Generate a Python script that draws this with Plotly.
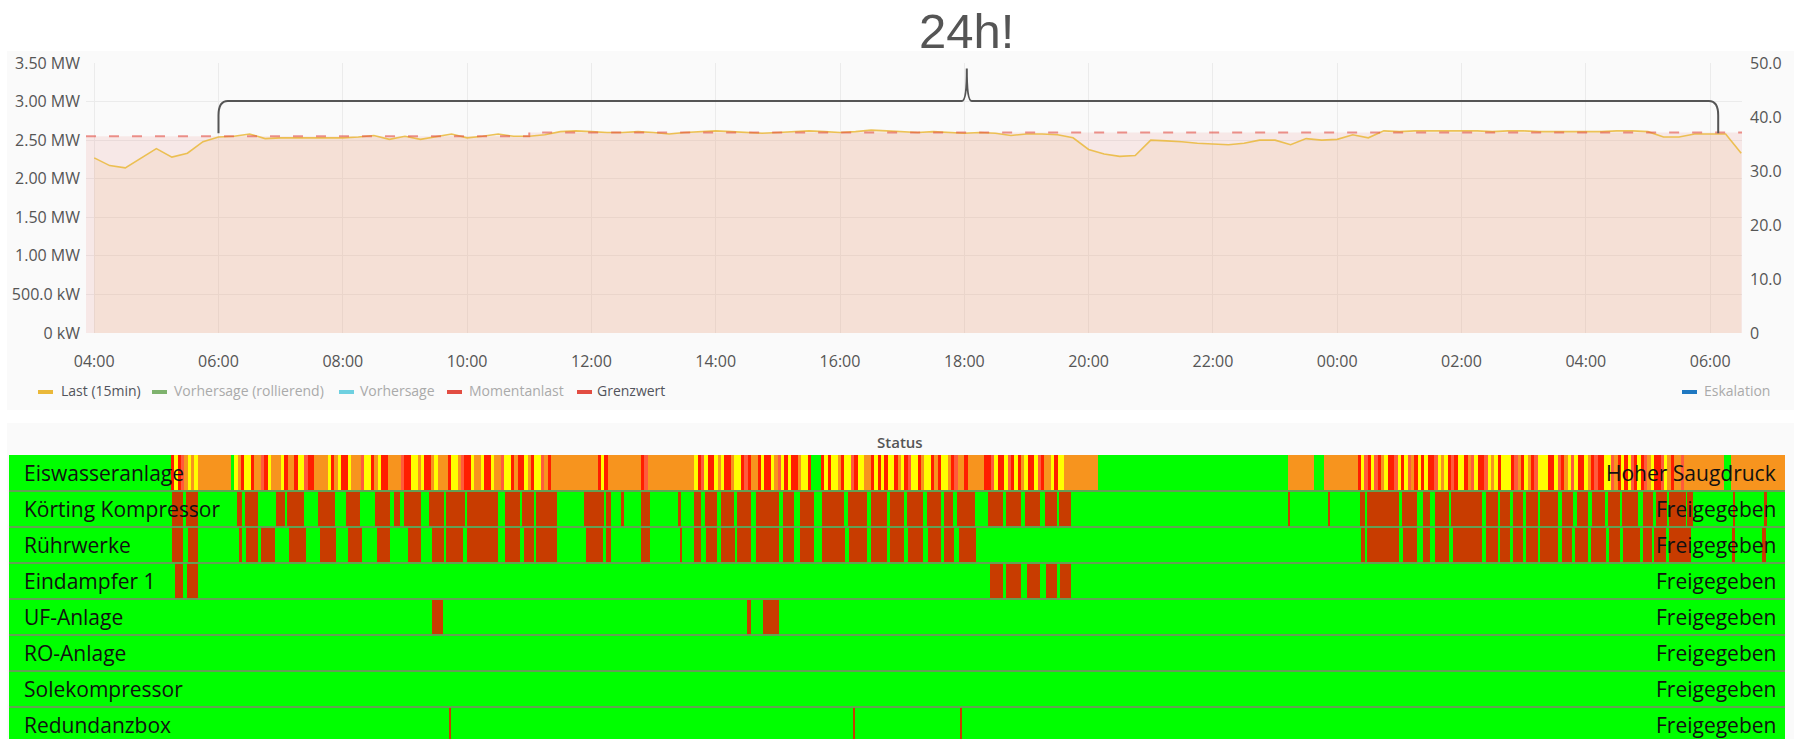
import plotly.graph_objects as go

W, H = 1802, 739
def px(x): return x / W
def py(y): return 1 - y / H

# ---------------- data ----------------
T_RANGE = [3.868, 30.513]          # hours since 00:00 of day 1
TICK_H = [4, 6, 8, 10, 12, 14, 16, 18, 20, 22, 24, 26, 28, 30]
TICK_TXT = ["04:00", "06:00", "08:00", "10:00", "12:00", "14:00", "16:00", "18:00",
            "20:00", "22:00", "00:00", "02:00", "04:00", "06:00"]

LAST_START = 4.0   # first sample 04:00, 15 min steps
LAST = [2.27, 2.17, 2.14, 2.27, 2.39, 2.28, 2.33, 2.48, 2.54, 2.55, 2.58, 2.52, 2.53,
        2.53, 2.53, 2.53, 2.53, 2.54, 2.56, 2.51, 2.55, 2.51, 2.55, 2.58, 2.53, 2.55,
        2.58, 2.55, 2.55, 2.57, 2.61, 2.62, 2.61,
        2.60, 2.60, 2.61, 2.60, 2.58, 2.60, 2.61, 2.62, 2.61, 2.60, 2.59, 2.60, 2.61,
        2.62, 2.61, 2.60, 2.61, 2.63, 2.62, 2.61, 2.60, 2.61, 2.60, 2.59, 2.60, 2.59,
        2.56, 2.58, 2.58, 2.57, 2.53,
        2.38, 2.32, 2.29, 2.30, 2.50, 2.49, 2.48, 2.46, 2.45, 2.44, 2.46, 2.50, 2.50,
        2.44, 2.52, 2.50, 2.51, 2.57, 2.53, 2.62, 2.61, 2.62, 2.62, 2.62, 2.62, 2.62,
        2.61, 2.62, 2.62, 2.61, 2.61, 2.61, 2.61, 2.61, 2.62, 2.62, 2.61, 2.54, 2.54,
        2.58, 2.58, 2.58, 2.33]
GRENZ_T = [3.868, 11.0, 30.513]
GRENZ = [2.55, 2.60, 2.60]

Y_TICKS = [0, 0.5, 1.0, 1.5, 2.0, 2.5, 3.0, 3.5]
Y_TICK_TXT = ["0 kW", "500.0 kW", "1.00 MW", "1.50 MW", "2.00 MW", "2.50 MW", "3.00 MW", "3.50 MW"]
Y2_TICKS = [0, 10, 20, 30, 40, 50]
Y2_TICK_TXT = ["0", "10.0", "20.0", "30.0", "40.0", "50.0"]

ROWS = ["Eiswasseranlage", "Körting Kompressor", "Rührwerke", "Eindampfer 1",
        "UF-Anlage", "RO-Anlage", "Solekompressor", "Redundanzbox"]
ROW_STATE_TXT = ["Hoher Saugdruck", "Freigegeben", "Freigegeben", "Freigegeben",
                 "Freigegeben", "Freigegeben", "Freigegeben", "Freigegeben"]

# Eiswasseranlage: (start hour, states every 3 min) g=ok o=warn y=yellow r=red p=light red
EIS_STEP = 0.05
EIS_BLOCKS = [
    (6.30, "ryrpoyoy" + "oooooooooo"),
    (7.25, "yoryyroo" "pryoooyr" "ooryyprr" "ooooyroy" "rryooopy" "yroyrroo"
           "ooprryyo" "yrroyooo" "ryyoprry" "ooyrryoo" "pyyrorry" "oryyporo"),
    (12.05, "ooooooooooooo" "ryr" "oooooooooo" "rp" "oooooooooooooo"
            "yrpyr" "ryoyr" "royyr" "proor" "yrryo" "pyryr" "royyr"
            "ggg"
            "ryryy" "oryyp" "ryyoo" "ryryr" "yyroy" "rpyyr" "oyyro" "ryyor"
            "pooro" "oooor" "rpyrr" "ypryr" "oyrry" "prooy" "ryyoo"
            "oooooooo"),
    (23.05, "oooooooo" "ggg" "oooooooooo"
            "ryprypr" "oyrrpyr" "yporyry" "rrpyoyr" "pryyrop" "yrrpyoy" "ryyyrpo"
            "ryorpyy" "yrrypro" "ypyrryo" "rprryyp" "oryrypr" "yrpoyrr" "pyoroop"
            "oooooooooooo" "gg" "ooooooooooooooooo"),
]

KOERTING = [(6.31, 6.48), (6.52, 6.70), (7.29, 7.36), (7.41, 7.60), (7.87, 8.01), (8.04, 8.29),
            (8.50, 8.76), (8.92, 9.13), (9.36, 9.58), (9.64, 9.74), (9.80, 10.05), (10.17, 10.39),
            (10.42, 10.71), (10.74, 11.20), (11.31, 11.54), (11.56, 11.75), (11.78, 12.09),
            (12.50, 12.80), (12.83, 12.90), (13.05, 13.10), (13.35, 13.49), (13.91, 13.95),
            (14.15, 14.25), (14.31, 14.49), (14.55, 14.75), (14.79, 15.00), (15.08, 15.42),
            (15.48, 15.65), (15.74, 15.95), (16.07, 16.40), (16.46, 16.74), (16.80, 17.04),
            (17.09, 17.30), (17.34, 17.58), (17.64, 17.85), (17.90, 18.03), (18.09, 18.36),
            (18.56, 18.78), (18.83, 19.05), (19.11, 19.34), (19.41, 19.59), (19.62, 19.80),
            (23.06, 23.08), (23.66, 23.68),
            (24.14, 24.21), (24.24, 24.72), (24.77, 24.99), (25.08, 25.19), (25.26, 25.47),
            (25.50, 25.96), (26.02, 26.20), (26.23, 26.39), (26.43, 26.58), (26.63, 26.80),
            (26.83, 27.11), (27.17, 27.33), (27.39, 27.56), (27.62, 27.81), (27.86, 28.04),
            (28.07, 28.31), (28.38, 28.53), (28.58, 28.74), (28.77, 29.03), (29.04, 29.13),
            (29.73, 29.77), (30.20, 30.25)]
RUEHRWERKE = [(6.31, 6.48), (6.55, 6.70), (7.32, 7.36), (7.42, 7.60), (7.65, 7.86), (8.07, 8.32),
              (8.53, 8.77), (8.95, 9.16), (9.39, 9.58), (9.85, 10.05), (10.21, 10.39),
              (10.42, 10.68), (10.74, 11.20), (11.31, 11.54), (11.60, 11.75), (11.78, 12.09),
              (12.53, 12.78), (12.83, 12.90), (13.35, 13.49), (13.94, 13.97), (14.15, 14.25),
              (14.33, 14.49), (14.55, 14.76), (14.79, 15.00), (15.08, 15.42), (15.48, 15.65),
              (15.74, 15.95), (16.07, 16.41), (16.47, 16.74), (16.80, 17.04), (17.09, 17.30),
              (17.36, 17.58), (17.66, 17.85), (17.90, 18.05), (18.12, 18.38),
              (24.15, 24.21), (24.24, 24.72), (24.78, 24.99), (25.08, 25.19), (25.26, 25.47),
              (25.53, 25.96), (26.03, 26.20), (26.24, 26.39), (26.43, 26.58), (26.63, 26.80),
              (26.83, 27.11), (27.17, 27.32), (27.36, 27.56), (27.60, 27.83), (27.87, 28.04),
              (28.08, 28.34), (28.38, 28.52), (28.55, 28.73), (28.77, 29.10), (29.72, 29.77),
              (30.17, 30.23)]
EINDAMPFER = [(6.36, 6.48), (6.54, 6.70), (18.59, 18.78), (18.83, 19.05), (19.14, 19.34),
              (19.43, 19.59), (19.64, 19.80)]
UF_ANLAGE = [(10.21, 10.38), (14.94, 15.00), (15.18, 15.42)]
RO_ANLAGE = []
SOLEKOMPRESSOR = []
REDUNDANZBOX = [(10.47, 10.50), (16.53, 16.56), (18.14, 18.17)]
ALARM_ROWS = {1: KOERTING, 2: RUEHRWERKE, 3: EINDAMPFER, 4: UF_ANLAGE, 5: RO_ANLAGE,
              6: SOLEKOMPRESSOR, 7: REDUNDANZBOX}

STATE_COLORS = {"g": "#00ff00", "o": "#f7941e", "y": "#ffff00", "r": "#ff1e00",
                "p": "#ff5a3c", "alarm": "#c83c00"}

# ---------------- figure ----------------
fig = go.Figure()

fig.add_trace(go.Scatter(x=GRENZ_T, y=GRENZ, mode="lines", line=dict(width=0, shape="hv"),
                         fill="tozeroy", fillcolor="rgba(226,77,66,0.10)",
                         showlegend=False, hoverinfo="skip"))
last_t = [LAST_START + 0.25 * i for i in range(len(LAST))]
fig.add_trace(go.Scatter(x=last_t, y=LAST, mode="lines",
                         line=dict(color="rgba(234,184,57,0.85)", width=1.6),
                         fill="tozeroy", fillcolor="rgba(234,184,120,0.15)",
                         showlegend=False, hoverinfo="skip"))
fig.add_trace(go.Scatter(x=GRENZ_T, y=GRENZ, mode="lines",
                         line=dict(color="rgba(226,77,66,0.6)", width=2, dash="10px,13px", shape="hv"),
                         showlegend=False, hoverinfo="skip"))
fig.add_trace(go.Scatter(x=[None], y=[None], yaxis="y3", showlegend=False, hoverinfo="skip"))

def add_bars(rows, starts, ends, color):
    if not starts:
        return
    fig.add_trace(go.Bar(orientation="h", y=rows, base=starts,
                         x=[e - s for s, e in zip(starts, ends)],
                         width=1.0, marker=dict(color=color, line=dict(width=0)),
                         xaxis="x2", yaxis="y2", showlegend=False, hoverinfo="skip"))

add_bars(list(range(len(ROWS))), [T_RANGE[0]] * len(ROWS), [T_RANGE[1]] * len(ROWS),
         STATE_COLORS["g"])

runs = {}
for start, code in EIS_BLOCKS:
    i = 0
    while i < len(code):
        j = i
        while j < len(code) and code[j] == code[i]:
            j += 1
        runs.setdefault(code[i], []).append((start + i * EIS_STEP, start + j * EIS_STEP))
        i = j
for st in ["o", "y", "r", "p", "g"]:
    segs = runs.get(st, [])
    add_bars([0] * len(segs), [s for s, e in segs], [e for s, e in segs], STATE_COLORS[st])

for row, segs in ALARM_ROWS.items():
    add_bars([row] * len(segs), [s for s, e in segs], [e for s, e in segs], STATE_COLORS["alarm"])

# ---------------- layout ----------------
font_axis = dict(family="Open Sans", size=16, color="#555")
fig.update_layout(
    width=W, height=H, margin=dict(l=0, r=0, t=0, b=0, pad=0, autoexpand=False),
    paper_bgcolor="white", plot_bgcolor="rgba(0,0,0,0)",
    barmode="overlay", bargap=0, showlegend=False,
    xaxis=dict(domain=[px(86), px(1742)], range=T_RANGE, tickvals=TICK_H, ticktext=TICK_TXT,
               showgrid=True, gridcolor="#ebebeb", zeroline=False, showline=False, ticks="",
               tickfont=font_axis, ticklabelstandoff=17, anchor="y", automargin=False),
    yaxis=dict(domain=[py(333), py(63)], range=[0, 3.5], tickvals=Y_TICKS, ticktext=Y_TICK_TXT,
               showgrid=True, gridcolor="#ebebeb", zeroline=False, showline=False, ticks="",
               tickfont=font_axis, ticklabelstandoff=5, anchor="x", automargin=False),
    yaxis3=dict(overlaying="y", side="right", range=[0, 50], tickvals=Y2_TICKS, ticktext=Y2_TICK_TXT,
                showgrid=False, zeroline=False, showline=False, ticks="", tickfont=font_axis,
                ticklabelstandoff=7, anchor="x", automargin=False),
    xaxis2=dict(domain=[px(9), px(1785)], range=T_RANGE, visible=False, anchor="y2", automargin=False),
    yaxis2=dict(domain=[0, py(455)], range=[7.389, -0.5], visible=False, anchor="x2", automargin=False),
)

shapes = [
    dict(type="rect", xref="paper", yref="paper", x0=px(7), x1=px(1794), y0=py(410), y1=py(51),
         fillcolor="#fafafa", line=dict(width=0), layer="below"),
    dict(type="rect", xref="paper", yref="paper", x0=px(7), x1=px(1794), y0=py(739), y1=py(423),
         fillcolor="#fafafa", line=dict(width=0), layer="below"),
]
for i in range(len(ROWS) - 1):
    shapes.append(dict(type="line", xref="paper", yref="y2", x0=px(9), x1=px(1785),
                       y0=i + 0.5, y1=i + 0.5, line=dict(color="#63a054", width=2)))

bx0, bx1, tip = 6.0, 30.13, 18.04
by0, by1, bt = 2.59, 3.007, 3.43
brace = (f"M {bx0},{by0} L {bx0},2.82 Q {bx0},{by1} {bx0+0.15},{by1} "
         f"L {tip-0.08},{by1} Q {tip},{by1} {tip},{bt} Q {tip},{by1} {tip+0.08},{by1} "
         f"L {bx1-0.15},{by1} Q {bx1},{by1} {bx1},2.82 L {bx1},{by0}")
shapes.append(dict(type="path", xref="x", yref="y", path=brace, line=dict(color="#555", width=2)))

annotations = [
    dict(text="24h!", x=px(966), y=py(31), xref="paper", yref="paper", showarrow=False,
         xanchor="center", yanchor="middle",
         font=dict(family="Liberation Sans, Arial", size=49, color="#555")),
    dict(text="Status", x=px(900), y=py(442), xref="paper", yref="paper", showarrow=False,
         xanchor="center", yanchor="middle",
         font=dict(family="Open Sans", size=15, color="#555", weight=600)),
]

legend_items = [("Last (15min)", "#eab839", 38, 59, "#52545c"),
                ("Vorhersage (rollierend)", "#7eb26d", 152, 172, "#aaaaaa"),
                ("Vorhersage", "#6ed0e0", 339, 358, "#aaaaaa"),
                ("Momentanlast", "#e24d42", 447, 467, "#aaaaaa"),
                ("Grenzwert", "#e24d42", 577, 595, "#52545c"),
                ("Eskalation", "#1f78c1", 1682, 1702, "#aaaaaa")]
for name, col, mx, tx, tcol in legend_items:
    shapes.append(dict(type="rect", xref="paper", yref="paper", x0=px(mx), x1=px(mx + 15),
                       y0=py(394), y1=py(390), fillcolor=col, line=dict(width=0)))
    annotations.append(dict(text=name, x=px(tx), y=py(391), xref="paper", yref="paper",
                            showarrow=False, xanchor="left", yanchor="middle",
                            font=dict(family="Open Sans", size=14, color=tcol)))

for i, (name, state) in enumerate(zip(ROWS, ROW_STATE_TXT)):
    annotations.append(dict(text=name, x=px(22), y=i, xref="paper", yref="y2", showarrow=False,
                            xanchor="left", yanchor="middle",
                            font=dict(family="Open Sans", size=21, color="#111")))
    annotations.append(dict(text=state, x=px(1778), y=i, xref="paper", yref="y2", showarrow=False,
                            xanchor="right", yanchor="middle",
                            font=dict(family="Open Sans", size=21, color="#111")))

fig.update_layout(shapes=shapes, annotations=annotations)
fig.write_html("out.html", config={"displayModeBar": False},
               post_script="document.body.style.margin='0';document.body.style.overflow='hidden';")
